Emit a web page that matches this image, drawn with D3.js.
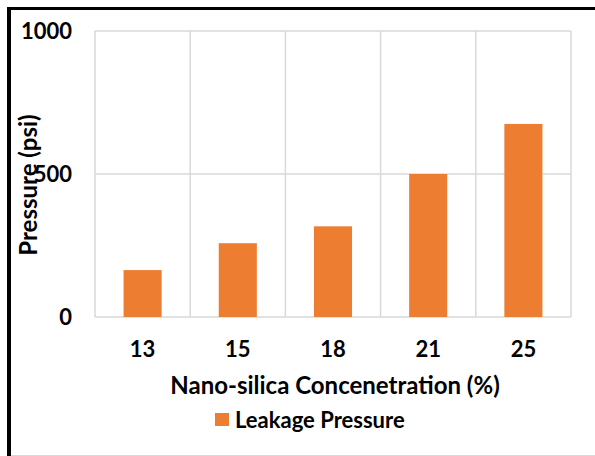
<!DOCTYPE html>
<html>
<head>
<meta charset="utf-8">
<script src="https://cdn.jsdelivr.net/npm/d3@7"></script>
<style>
  body { margin: 0; background: #fff; }
  text { font-family: Lato, "Open Sans", sans-serif; font-weight: bold; fill: #000; }
</style>
</head>
<body>
<div id="chart"></div>
<script>
// chart data
var categories = ["13", "15", "18", "21", "25"],
    pressure = [164, 258, 317, 500, 675],
    yTicks = [0, 500, 1000],
    seriesName = "Leakage Pressure";

var W = 595, H = 456,
    plotL = 95, plotR = 571, plotT = 31, plotB = 317;

var svg = d3.select("#chart").append("svg")
    .attr("width", W)
    .attr("height", H);

// outer frame: thick black top/left, thin grey bottom
svg.append("rect").attr("x", 7).attr("y", 7).attr("width", W - 7).attr("height", 3).attr("fill", "#000");
svg.append("rect").attr("x", 7).attr("y", 7).attr("width", 4).attr("height", H - 7).attr("fill", "#000");
svg.append("line").attr("x1", 11).attr("x2", W).attr("y1", 455.5).attr("y2", 455.5)
    .attr("stroke", "#d9d9d9").attr("stroke-width", 1);

var x = d3.scaleBand().domain(categories).range([plotL, plotR]).padding(0);
var y = d3.scaleLinear().domain([0, 1000]).range([plotB, plotT]);

// grid
var grid = svg.append("g").attr("stroke", "#d9d9d9").attr("stroke-width", 1.5);
grid.selectAll(".h").data(yTicks).enter().append("line")
    .attr("x1", plotL).attr("x2", plotR)
    .attr("y1", function(d) { return y(d); })
    .attr("y2", function(d) { return y(d); });
grid.selectAll(".v").data(categories.concat(["end"])).enter().append("line")
    .attr("x1", function(d, i) { return plotL + i * x.step(); })
    .attr("x2", function(d, i) { return plotL + i * x.step(); })
    .attr("y1", plotT).attr("y2", plotB);

// bars
svg.selectAll(".bar").data(pressure).enter().append("rect")
    .attr("x", function(d, i) { return x(categories[i]) + x.bandwidth() * 0.3; })
    .attr("width", x.bandwidth() * 0.4)
    .attr("y", function(d) { return y(d); })
    .attr("height", function(d) { return y(0) - y(d); })
    .attr("fill", "#ED7D31");

// y tick labels
svg.selectAll(".yt").data(yTicks).enter().append("text")
    .attr("x", 72)
    .attr("y", function(d) { return y(d); })
    .attr("dy", "0.35em")
    .attr("text-anchor", "end")
    .style("font-size", "22px")
    .text(function(d) { return d; });

// x tick labels
svg.selectAll(".xt").data(categories).enter().append("text")
    .attr("x", function(d) { return x(d) + x.bandwidth() / 2; })
    .attr("y", 349)
    .attr("dy", "0.35em")
    .attr("text-anchor", "middle")
    .style("font-size", "22px")
    .text(function(d) { return d; });

// axis titles
svg.append("text")
    .attr("transform", "translate(29,185) rotate(-90)")
    .attr("dy", "0.35em")
    .attr("text-anchor", "middle")
    .style("font-size", "24px")
    .text("Pressure (psi)");

svg.append("text")
    .attr("x", 335)
    .attr("y", 386)
    .attr("dy", "0.35em")
    .attr("text-anchor", "middle")
    .style("font-size", "24px")
    .text("Nano-silica Concenetration (%)");

// legend
svg.append("rect").attr("x", 215).attr("y", 413).attr("width", 14).attr("height", 13).attr("fill", "#ED7D31");
svg.append("text")
    .attr("x", 235)
    .attr("y", 420)
    .attr("dy", "0.35em")
    .style("font-size", "22px")
    .text(seriesName);
</script>
</body>
</html>
